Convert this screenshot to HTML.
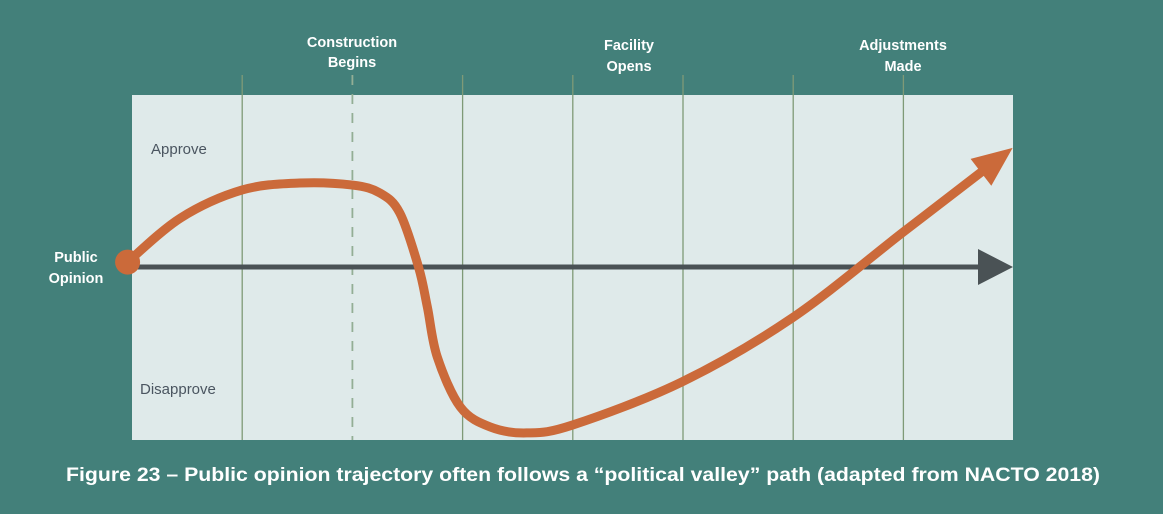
<!DOCTYPE html>
<html><head><meta charset="utf-8">
<style>
html,body{margin:0;padding:0;background:#43807a;}
svg{display:block;font-family:"Liberation Sans",sans-serif;}
</style></head>
<body>
<svg width="1163" height="514" viewBox="0 0 1163 514">
  <rect x="0" y="0" width="1163" height="514" fill="#43807a"/>
  <rect x="132" y="95" width="881" height="345" fill="#dfeaea"/>
  <g id="grid"></g>
  <g fill="#fff" font-weight="bold" font-size="14.5" text-anchor="middle">
    <text x="352" y="47">Construction</text>
    <text x="352" y="67">Begins</text>
    <text x="629" y="50">Facility</text>
    <text x="629" y="71">Opens</text>
    <text x="903" y="50">Adjustments</text>
    <text x="903" y="71">Made</text>
  </g>
  <text x="151" y="154" font-size="15" fill="#4a5560">Approve</text>
  <text x="140" y="394" font-size="15" fill="#4a5560">Disapprove</text>
  <text x="76" y="262" font-size="14.5" font-weight="bold" fill="#fff" text-anchor="middle">Public</text>
  <text x="76" y="283" font-size="14.5" font-weight="bold" fill="#fff" text-anchor="middle">Opinion</text>
  <line x1="132" y1="267" x2="982" y2="267" stroke="#4a5255" stroke-width="5"/>
  <polygon points="978,249 1013,267 978,285" fill="#4a5255"/>
  <g id="series"></g>
  <text x="583" y="481" font-size="19" font-weight="bold" fill="#fff" text-anchor="middle" textLength="1034" lengthAdjust="spacingAndGlyphs">Figure 23 – Public opinion trajectory often follows a “political valley” path (adapted from NACTO 2018)</text>
</svg>
<script>
const gridTimes = [1, 2, 3, 4, 5, 6, 7];
const dashedTimes = [2];
const times = [-0.04, 0.44, 1.0, 1.52, 2.0, 2.25, 2.43, 2.6, 2.68, 2.77, 2.98, 3.25, 3.58, 4.0, 4.99, 5.99, 7.0, 7.79];
const opinion = [2.9, 28.8, 45.3, 49.4, 48.2, 43.5, 31.8, 0, -23.5, -52.9, -82.4, -94.1, -97.6, -92.9, -67.6, -30, 20.6, 60];

const NS = "http://www.w3.org/2000/svg";
const xScale = t => 132 + t * 110.2;
const yScale = v => 267 - v * 1.7;

const grid = document.getElementById('grid');
gridTimes.forEach(t => {
  const l = document.createElementNS(NS, 'line');
  const x = xScale(t);
  l.setAttribute('x1', x); l.setAttribute('x2', x);
  l.setAttribute('y1', 75); l.setAttribute('y2', 440);
  l.setAttribute('stroke', '#7f9a77');
  l.setAttribute('stroke-width', '1.3');
  if (dashedTimes.includes(t)) { l.setAttribute('stroke-dasharray', '10 9'); l.setAttribute('stroke', '#93ae95'); l.setAttribute('stroke-width', '1.8'); }
  
  
  grid.appendChild(l);
});

const pts = times.map((t, i) => [xScale(t), yScale(opinion[i])]);
let d = `M${pts[0][0]},${pts[0][1]}`;
for (let i = 0; i < pts.length - 1; i++) {
  const p0 = pts[Math.max(0, i - 1)], p1 = pts[i], p2 = pts[i + 1], p3 = pts[Math.min(pts.length - 1, i + 2)];
  const c1 = [p1[0] + (p2[0] - p0[0]) / 6, p1[1] + (p2[1] - p0[1]) / 6];
  const c2 = [p2[0] - (p3[0] - p1[0]) / 6, p2[1] - (p3[1] - p1[1]) / 6];
  d += ` C${c1[0]},${c1[1]} ${c2[0]},${c2[1]} ${p2[0]},${p2[1]}`;
}
const series = document.getElementById('series');
const path = document.createElementNS(NS, 'path');
path.setAttribute('d', d);
path.setAttribute('fill', 'none');
path.setAttribute('stroke', '#cb6a3a');
path.setAttribute('stroke-width', '9');
path.setAttribute('stroke-linecap', 'round');
path.setAttribute('stroke-linejoin', 'round');


series.appendChild(path);

const last = pts[pts.length - 1], prev = pts[pts.length - 2];
let dx = last[0] - prev[0], dy = last[1] - prev[1];
const len = Math.hypot(dx, dy); dx /= len; dy /= len;
const tipX = last[0] + dx * 28, tipY = last[1] + dy * 28;
const bx = tipX - dx * 40, by = tipY - dy * 40;
const head = document.createElementNS(NS, 'polygon');
head.setAttribute('points', `${tipX},${tipY} ${bx - dy * 17},${by + dx * 17} ${bx + dy * 17},${by - dx * 17}`);
head.setAttribute('fill', '#cb6a3a');


series.appendChild(head);

const dot = document.createElementNS(NS, 'circle');
dot.setAttribute('cx', pts[0][0]);
dot.setAttribute('cy', pts[0][1]);
dot.setAttribute('r', 12.5);
dot.setAttribute('fill', '#cb6a3a');


series.appendChild(dot);
</script>
</body></html>
